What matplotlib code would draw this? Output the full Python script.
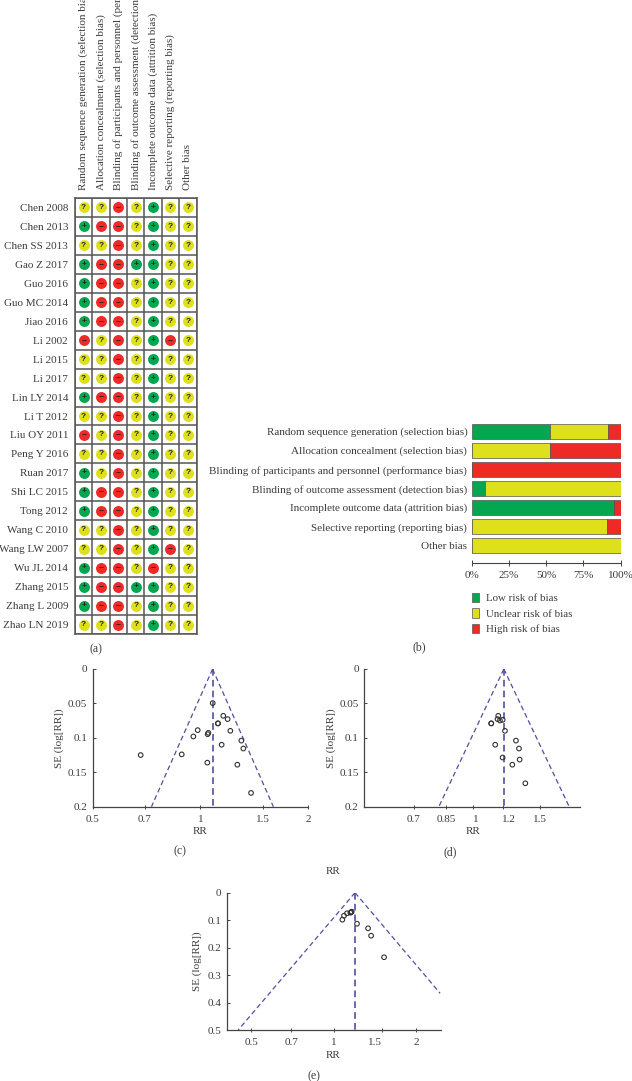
"""Risk of bias summary, risk of bias graph and three funnel plots."""

import matplotlib
matplotlib.use("Agg")
import matplotlib.pyplot as plt
from matplotlib.transforms import ScaledTranslation

W, H = 632, 1081
TEXT = "#3c3c3c"
GREEN, YELLOW, RED = "#05a650", "#dfe01c", "#ee2a26"
FUNNEL = "#4f4f9e"

plt.rcParams["font.family"] = ["Liberation Serif", "DejaVu Serif"]
plt.rcParams["font.size"] = 8.0
plt.rcParams["text.color"] = TEXT
plt.rcParams["axes.edgecolor"] = "#444444"
plt.rcParams["xtick.color"] = "#444444"
plt.rcParams["ytick.color"] = "#444444"
plt.rcParams["xtick.labelcolor"] = TEXT
plt.rcParams["ytick.labelcolor"] = TEXT

# ── Data ──────────────────────────────────────────────
domains = [
    "Random sequence generation (selection bias)",
    "Allocation concealment (selection bias)",
    "Blinding of participants and personnel (performance bias)",
    "Blinding of outcome assessment (detection bias)",
    "Incomplete outcome data (attrition bias)",
    "Selective reporting (reporting bias)",
    "Other bias",
]
studies = [
    "Chen 2008", "Chen 2013", "Chen SS 2013", "Gao Z 2017", "Guo 2016",
    "Guo MC 2014", "Jiao 2016", "Li 2002", "Li 2015", "Li 2017",
    "Lin LY 2014", "Li T 2012", "Liu OY 2011", "Peng Y 2016", "Ruan 2017",
    "Shi LC 2015", "Tong 2012", "Wang C 2010", "Wang LW 2007", "Wu JL 2014",
    "Zhang 2015", "Zhang L 2009", "Zhao LN 2019",
]
# one symbol per domain, same order as domains
ratings = [
    "??-?+??", "+--?+??", "??-?+??", "+--++??", "+--?+??",
    "+--?+??", "+--?+??", "-?-?+-?", "??-?+??", "??-?+??",
    "+--?+??", "??-?+??", "-?-?+??", "??-?+??", "+?-?+??",
    "+--?+??", "+--?+??", "??-?+??", "??-?+-?", "+--?-??",
    "+--++??", "+--?+??", "??-?+??",
]

low_risk = [52.5, 0, 0, 9, 95.5, 0, 0]
unclear_risk = [39, 52.5, 0, 91, 0, 91, 100]
high_risk = [8.5, 47.5, 100, 0, 4.5, 9, 0]
pct_ticks = [0, 25, 50, 75, 100]
pct_labels = ["0%", "25%", "50%", "75%", "100%"]

rr_c = [1.083, 1.159, 1.192, 1.120, 1.120, 1.213, 0.983, 1.053, 1.048, 0.956,
        1.302, 1.147, 1.319, 0.681, 0.887, 1.046, 1.269, 1.386]
se_c = [0.0495, 0.068, 0.0728, 0.079, 0.079, 0.0898, 0.0888, 0.0927, 0.0947, 0.098,
        0.104, 0.110, 0.1155, 0.125, 0.124, 0.136, 0.139, 0.18]
rr_d = [1.165, 1.160, 1.177, 1.196, 1.117, 1.117, 1.213, 1.296, 1.144, 1.320,
        1.196, 1.325, 1.268, 1.371]
se_d = [0.068, 0.0728, 0.0748, 0.0738, 0.079, 0.079, 0.0898, 0.104, 0.110, 0.1155,
        0.1286, 0.1316, 0.139, 0.166]
rr_e = [1.077, 1.092, 1.120, 1.152, 1.165, 1.158, 1.218, 1.337, 1.371, 1.529]
se_e = [0.0983, 0.0838, 0.075, 0.0728, 0.069, 0.0714, 0.113, 0.1297, 0.1566, 0.235]


def px_axes(fig, left, top, right, bottom):
    """Axes placed by pixel box, y counted from the top of the image."""
    return fig.add_axes([left / W, 1 - bottom / H, (right - left) / W, (bottom - top) / H])


def px_text(fig, x, y, s, **kw):
    kw.setdefault("ha", "center")
    kw.setdefault("va", "center")
    fig.text(x / W, 1 - y / H, s, **kw)


def draw_summary(fig):
    ax = px_axes(fig, 75, 198, 196.5, 634)
    colours = {"+": GREEN, "?": YELLOW, "-": RED}
    glyphs = {"+": "+", "?": "?", "-": "\u2212"}
    for row, line in enumerate(ratings):
        for col, mark in enumerate(line):
            ax.scatter(col + 0.5, row + 0.5, s=62, color=colours[mark], linewidths=0, zorder=3)
            ax.text(col + 0.5, row + 0.5, glyphs[mark], ha="center", va="center",
                    fontsize=6, fontweight="bold", color="#222222", zorder=4,
                    family=["Liberation Sans", "DejaVu Sans"])
    ax.set_xlim(0, 7)
    ax.set_ylim(23, 0)
    ax.set_xticks(range(8), minor=True)
    ax.set_yticks(range(24), minor=True)
    ax.grid(True, which="minor", color="#555555", lw=1.1)
    ax.set_axisbelow(True)
    ax.xaxis.tick_top()
    ax.set_xticks([c + 0.5 for c in range(7)])
    ax.set_xticklabels(domains, rotation=90, ha="center", va="bottom")
    ax.set_yticks([r + 0.5 for r in range(23)])
    ax.set_yticklabels(studies)
    ax.tick_params(which="both", length=0)
    ax.tick_params(axis="x", pad=5.5)
    ax.tick_params(axis="y", pad=5)
    for s in ax.spines.values():
        s.set_linewidth(1.1)
        s.set_color("#555555")


def draw_bars(fig):
    ax = px_axes(fig, 471.7, 421.8, 620.7, 563)
    y = list(range(7))
    left_u = low_risk
    left_h = [a + b for a, b in zip(low_risk, unclear_risk)]
    edge = dict(height=0.8, edgecolor="#555555", linewidth=0.5)
    b1 = ax.barh(y, low_risk, color=GREEN, label="Low risk of bias", **edge)
    b2 = ax.barh(y, unclear_risk, left=left_u, color=YELLOW, label="Unclear risk of bias", **edge)
    b3 = ax.barh(y, high_risk, left=left_h, color=RED, label="High risk of bias", **edge)
    ax.set_xlim(0, 100)
    ax.set_ylim(6.91, -0.5)
    ax.set_yticks(y)
    ax.set_yticklabels(domains)
    ax.tick_params(axis="y", length=0, pad=3.2)
    ax.set_xticks(pct_ticks)
    ax.set_xticklabels(pct_labels)
    ax.tick_params(axis="x", direction="inout", length=4, width=0.7, pad=3.5)
    for name in ["top", "left", "right"]:
        ax.spines[name].set_visible(False)
    ax.spines["bottom"].set_linewidth(0.8)
    fig.legend(handles=[b1, b2, b3], loc="upper left",
               bbox_to_anchor=(472 / W, 1 - 592.7 / H), frameon=False,
               handlelength=0.65, handleheight=1.0, handletextpad=0.62,
               labelspacing=0.45, borderpad=0, borderaxespad=0, fontsize=7.8)


def draw_funnel(fig, box, xlim, ymax, yticks, ylabels, xticks, xlabels, rr, se, centre,
                end_low, end_high, se_high=None, shifts=None):
    ax = px_axes(fig, *box)
    se_high = ymax if se_high is None else se_high
    dash = dict(color=FUNNEL, lw=0.9, ls=(0, (4, 2.5)), zorder=2)
    ax.plot([centre, end_low], [0, ymax], **dash)
    ax.plot([centre, end_high], [0, se_high], **dash)
    ax.plot([centre, centre], [0, ymax], **{**dash, "lw": 1.2})
    ax.scatter(rr, se, s=11, facecolors="none", edgecolors="#333333", linewidths=0.8, zorder=3)
    ax.set_xscale("log")
    ax.set_xlim(*xlim)
    ax.set_ylim(ymax, 0)
    ax.set_xticks(xticks)
    ax.set_xticklabels(xlabels)
    ax.set_xticks([], minor=True)
    ax.set_yticks(yticks)
    ax.set_yticklabels(ylabels)
    ax.tick_params(axis="x", direction="inout", length=3.5, width=0.7, pad=4)
    ax.tick_params(axis="y", direction="in", length=2.5, width=0.7, pad=4)
    for name in ["top", "right"]:
        ax.spines[name].set_visible(False)
    for name in ["left", "bottom"]:
        ax.spines[name].set_linewidth(0.9)
    if shifts:
        for lab, dx in zip(ax.get_xticklabels(), shifts):
            lab.set_transform(lab.get_transform() + ScaledTranslation(dx / 100, 0, fig.dpi_scale_trans))
    return ax


def main():
    fig = plt.figure(figsize=(W / 100, H / 100), dpi=100)

    draw_summary(fig)
    draw_bars(fig)

    se_ticks = [0, 0.05, 0.1, 0.15, 0.2]
    se_labels = ["0", "0.05", "0.1", "0.15", "0.2"]
    draw_funnel(fig, (92.7, 669, 308, 806.7), (0.5, 2), 0.2, se_ticks, se_labels,
                [0.5, 0.7, 1, 1.5, 2], ["0.5", "0.7", "1", "1.5", "2"],
                rr_c, se_c, 1.082, 0.73, 1.60)
    draw_funnel(fig, (364.3, 669, 580, 806.7), (0.5205, 1.905), 0.2, se_ticks, se_labels,
                [0.7, 0.85, 1, 1.2, 1.5], ["0.7", "0.85", "1", "1.2", "1.5"],
                rr_d, se_d, 1.205, 0.815, 1.785, shifts=[0, 0, 3.3, 5.3, 0])
    draw_funnel(fig, (226.7, 892.7, 441, 1030), (0.4076, 2.467), 0.5,
                [0, 0.1, 0.2, 0.3, 0.4, 0.5], ["0", "0.1", "0.2", "0.3", "0.4", "0.5"],
                [0.5, 0.7, 1, 1.5, 2], ["0.5", "0.7", "1", "1.5", "2"],
                rr_e, se_e, 1.198, 0.449, 2.45, se_high=0.3665, shifts=[0, 0, 0, -7, 0])

    # panel letters and axis titles, as placed in the figure
    for x, y, s in [(96, 649, "(a)"), (419, 647, "(b)"), (180, 851, "(c)"),
                    (450, 852, "(d)"), (314, 1076, "(e)")]:
        px_text(fig, x, y, s, fontsize=8.5)
    for x, y in [(200, 831), (473, 831), (333, 872), (333, 1055)]:
        px_text(fig, x, y, "RR")
    for x, y in [(59, 738), (331, 738), (197, 961)]:
        px_text(fig, x, y, "SE (log[RR])", rotation=90)

    fig.savefig("out.png", dpi=100)
    plt.close(fig)


if __name__ == "__main__":
    main()
